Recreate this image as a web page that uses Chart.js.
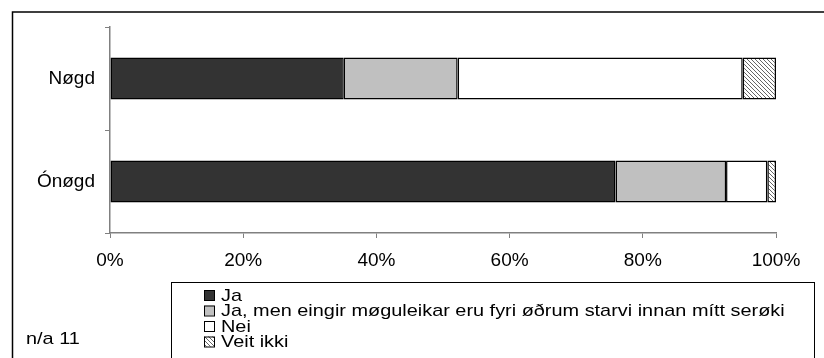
<!DOCTYPE html>
<html>
<head>
<meta charset="utf-8">
<script src="https://cdn.jsdelivr.net/npm/chart.js@4/dist/chart.umd.min.js"></script>
<style>
  html, body { margin: 0; padding: 0; background: #fff; }
  #wrap { width: 824px; height: 358px; }
</style>
</head>
<body>
<div id="wrap"><canvas id="svarChart" width="824" height="358"></canvas></div>
<script>
// Svar eftir nøgdsemi (prosent)
const bolkar = ['Nøgd', 'Ónøgd'];
const svarLabels = ['Ja', 'Ja, men eingir møguleikar eru fyri øðrum starvi innan mítt serøki', 'Nei', 'Veit ikki'];
const ja = [35.1, 75.9];
const jaMen = [17.1, 16.6];
const nei = [42.8, 6.2];
const veitIkki = [5.0, 1.3];
const xTicks = [0, 20, 40, 60, 80, 100];
const talFrammanfyri = 'n/a 11';

const FONT = '"Liberation Sans", Arial, sans-serif';

// skrástrikað mynstur til "Veit ikki"
function skraMynstur() {
  const c = document.createElement('canvas');
  c.width = 4; c.height = 4;
  const g = c.getContext('2d');
  g.fillStyle = '#fff';
  g.fillRect(0, 0, 4, 4);
  g.strokeStyle = '#666';
  g.lineWidth = 1;
  g.beginPath();
  g.moveTo(-1, -1); g.lineTo(5, 5);
  g.moveTo(-1, 3); g.lineTo(1, 5);
  g.moveTo(3, -1); g.lineTo(5, 1);
  g.stroke();
  return g.createPattern(c, 'repeat');
}

const litir = ['#333333', '#c0c0c0', '#ffffff', skraMynstur()];
const virdir = [ja, jaMen, nei, veitIkki];

const datasets = svarLabels.map((lab, i) => ({
  label: lab,
  data: virdir[i],
  backgroundColor: litir[i],
  borderColor: '#000',
  borderWidth: 1.5,
  borderSkipped: false,
  categoryPercentage: 1,
  barPercentage: 0.41
}));

// breiður tekstur (strekt vatnrætt)
function breidurTekstur(ctx, txt, x, y, sx) {
  ctx.save();
  ctx.translate(x, y);
  ctx.scale(sx, 1);
  ctx.fillText(txt, 0, 0);
  ctx.restore();
}

// rammi, forklaring og n-tal
const rammiPlugin = {
  id: 'rammi',
  afterDraw(chart) {
    const ctx = chart.ctx;
    ctx.save();
    ctx.strokeStyle = '#000';
    ctx.lineWidth = 1.5;
    ctx.strokeRect(12.5, 12, 900, 400);

    // forklaring
    ctx.lineWidth = 1;
    ctx.strokeRect(171.5, 282.5, 643, 100);
    ctx.font = '17px ' + FONT;
    ctx.textBaseline = 'middle';
    ctx.textAlign = 'left';
    const radir = [295, 310.5, 326, 341.5];
    chart.data.datasets.forEach((ds, i) => {
      const y = radir[i];
      ctx.fillStyle = ds.backgroundColor;
      ctx.fillRect(204, y - 5, 10, 10);
      ctx.strokeStyle = '#000';
      ctx.lineWidth = 1;
      ctx.strokeRect(204.5, y - 4.5, 10, 10);
      ctx.fillStyle = '#000';
      breidurTekstur(ctx, ds.label, 221, y + 1, 1.17);
    });

    ctx.font = '17px ' + FONT;
    breidurTekstur(ctx, talFrammanfyri, 26, 339, 1.17);
    ctx.restore();
  }
};

new Chart(document.getElementById('svarChart'), {
  type: 'bar',
  data: { labels: bolkar, datasets: datasets },
  options: {
    indexAxis: 'y',
    responsive: false,
    animation: false,
    devicePixelRatio: 1,
    layout: { padding: { top: 27, right: 48, left: 0, bottom: 0 } },
    plugins: {
      legend: { display: false },
      tooltip: { enabled: false }
    },
    scales: {
      x: {
        stacked: true,
        min: 0,
        max: 100,
        afterBuildTicks(scale) {
          scale.ticks = xTicks.map(v => ({ value: v }));
        },
        afterFit(scale) { scale.height = 125; },
        ticks: {
          callback: v => v + '%',
          color: '#000',
          font: { family: FONT, size: 19 },
          padding: 11,
          maxRotation: 0
        },
        grid: { drawOnChartArea: false, tickLength: 5, color: '#808080', lineWidth: 1 },
        border: { color: '#808080', width: 1.5 }
      },
      y: {
        stacked: true,
        afterFit(scale) { scale.width = 110; },
        ticks: {
          color: '#000',
          font: { family: FONT, size: 19 },
          padding: 10
        },
        grid: { offset: true, drawOnChartArea: false, tickLength: 5, color: '#808080', lineWidth: 1 },
        border: { color: '#808080', width: 1.5 }
      }
    }
  },
  plugins: [rammiPlugin]
});
</script>
</body>
</html>
